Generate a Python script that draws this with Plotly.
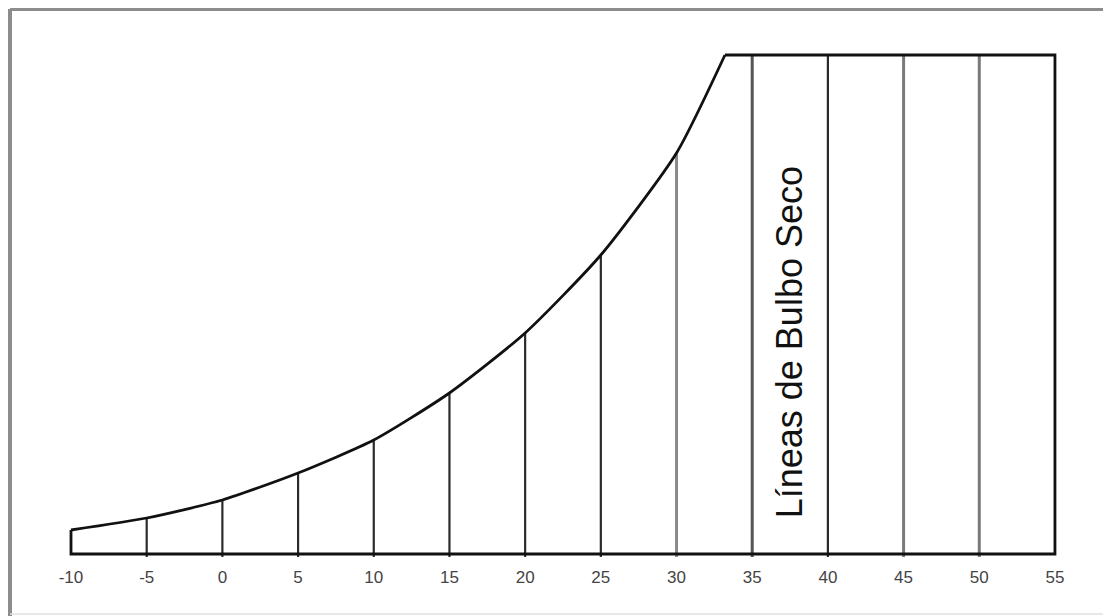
import plotly.graph_objects as go

# Dry-bulb temperatures (°C) at the vertical lines / tick labels
temps = [-10, -5, 0, 5, 10, 15, 20, 25, 30, 35, 40, 45, 50, 55]
tick_labels = ["-10", "-5", "0", "5", "10", "15", "20", "25", "30", "35", "40", "45", "50", "55"]

# Height of each dry-bulb line (chart units)
line_tops = [24, 36, 54, 81, 114, 161, 221, 299, 401, 499, 499, 499, 499, 499]

# Saturation curve (chart units)
curve_x = [-10, -5, 0, 5, 10, 15, 20, 25, 30, 33.2]
curve_y = [24, 36, 54, 81, 114, 161, 221, 299, 401, 499]

top_level = 499
label_text = "Líneas de Bulbo Seco"

W, H = 1103, 608

fig = go.Figure()

# Line colours per temperature (imitating the scanned look)
grey_lines = {30: "#8a8a8a", 45: "#7a7a7a", 50: "#7a7a7a", 35: "#555555"}

for t, h in zip(temps, line_tops):
    if t in (-10, 55):
        continue
    col = grey_lines.get(t, "#2a2a2a")
    w = 3 if t in grey_lines else 2.2
    fig.add_trace(go.Scatter(x=[t, t], y=[-3, h], mode="lines",
                             line=dict(color=col, width=w),
                             hoverinfo="skip", showlegend=False))

# Saturation curve
fig.add_trace(go.Scatter(x=curve_x, y=curve_y, mode="lines",
                         line=dict(color="#111111", width=2.8, shape="spline", smoothing=0.6),
                         hoverinfo="skip", showlegend=False))

# Outline: top, right side, baseline, left side
fig.add_trace(go.Scatter(
    x=[curve_x[-1], temps[-1], temps[-1], temps[0], temps[0]],
    y=[top_level, top_level, 0, 0, curve_y[0]],
    mode="lines", line=dict(color="#111111", width=2.8),
    hoverinfo="skip", showlegend=False))

# Tick labels
fig.add_trace(go.Scatter(x=temps, y=[-25] * len(temps), mode="text",
                         text=tick_labels,
                         textfont=dict(family="Liberation Sans, Arial", size=17, color="#444444"),
                         hoverinfo="skip", showlegend=False))

fig.add_annotation(x=37.45, y=212, text=label_text, textangle=-90, showarrow=False,
                   font=dict(family="Liberation Sans, Arial", size=36, color="#111111"))

# Scanned frame (left and top grey border, faint bottom)
fx = 2 / W
fy = 1 - 1 / H
fig.add_shape(type="line", xref="paper", yref="paper", x0=fx, x1=1, y0=fy, y1=fy,
              line=dict(color="#8c8c8c", width=4))
fig.add_shape(type="line", xref="paper", yref="paper", x0=fx, x1=fx, y0=0, y1=fy,
              line=dict(color="#8c8c8c", width=4))
fig.add_shape(type="line", xref="paper", yref="paper", x0=fx, x1=1, y0=2 / H, y1=2 / H,
              line=dict(color="#e0e0e0", width=1.5))

fig.update_layout(
    width=W, height=H,
    margin=dict(l=0, r=0, t=0, b=0),
    paper_bgcolor="white", plot_bgcolor="white",
    xaxis=dict(range=[-14.162, 58.702], visible=False, fixedrange=True),
    yaxis=dict(range=[-62, 546], visible=False, fixedrange=True),
    showlegend=False,
)

fig.write_html("out.html")
